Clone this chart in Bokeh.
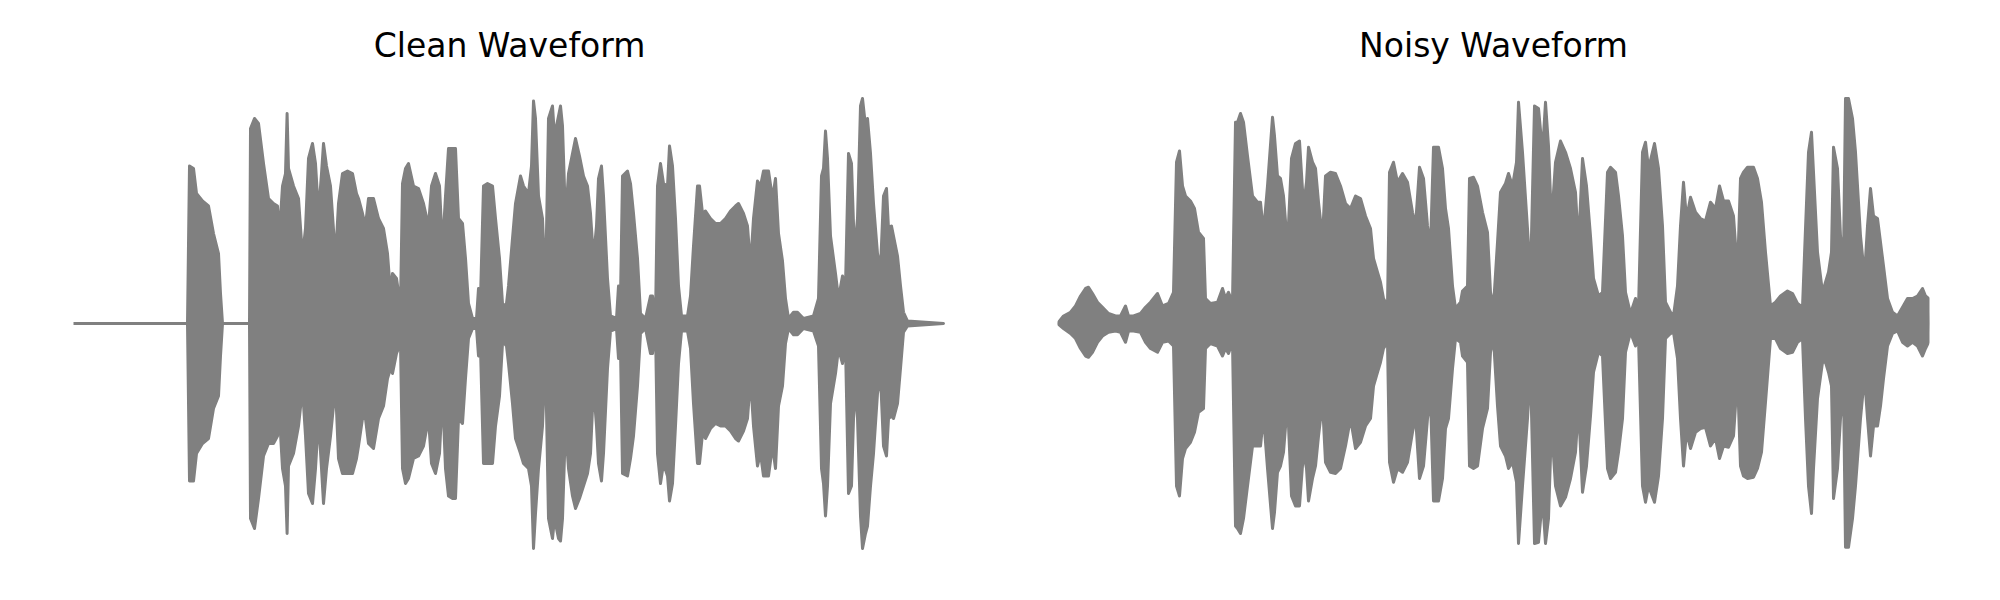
from bokeh.plotting import figure
from bokeh.layouts import row
from bokeh.embed import file_html
from bokeh.resources import INLINE

titles = ["Clean Waveform", "Noisy Waveform"]

# Clean waveform envelope (time in s, upper and lower amplitude)
clean_t = [0.000, 0.570, 0.580, 0.600, 0.615, 0.645, 0.675, 0.700, 0.725, 0.735,
           0.745, 0.880, 0.885, 0.905, 0.925, 0.950, 0.975, 1.000, 1.020, 1.030,
           1.045, 1.060, 1.068, 1.075, 1.100, 1.125, 1.145, 1.160, 1.175, 1.195,
           1.210, 1.225, 1.240, 1.250, 1.265, 1.285, 1.310, 1.325, 1.345, 1.370,
           1.395, 1.415, 1.425, 1.445, 1.460, 1.475, 1.500, 1.525, 1.550, 1.570,
           1.585, 1.595, 1.615, 1.635, 1.645, 1.660, 1.675, 1.700, 1.725, 1.750,
           1.775, 1.790, 1.810, 1.830, 1.845, 1.860, 1.875, 1.895, 1.910, 1.925,
           1.945, 1.960, 1.975, 1.995, 2.015, 2.025, 2.035, 2.050, 2.070, 2.095,
           2.110, 2.130, 2.145, 2.155, 2.165, 2.175, 2.195, 2.210, 2.235, 2.250,
           2.275, 2.290, 2.300, 2.310, 2.325, 2.345, 2.360, 2.375, 2.395, 2.405,
           2.425, 2.435, 2.445, 2.460, 2.475, 2.495, 2.510, 2.530, 2.550, 2.570,
           2.585, 2.600, 2.615, 2.625, 2.640, 2.650, 2.670, 2.685, 2.715, 2.725,
           2.735, 2.745, 2.770, 2.785, 2.800, 2.820, 2.835, 2.860, 2.885, 2.895,
           2.910, 2.920, 2.935, 2.950, 2.970, 2.980, 2.995, 3.010, 3.025, 3.040,
           3.070, 3.085, 3.100, 3.120, 3.130, 3.145, 3.160, 3.185, 3.210, 3.235,
           3.260, 3.285, 3.310, 3.325, 3.350, 3.370, 3.385, 3.400, 3.420, 3.435,
           3.450, 3.475, 3.495, 3.510, 3.525, 3.545, 3.560, 3.575, 3.600, 3.620,
           3.650, 3.700, 3.725, 3.740, 3.750, 3.760, 3.770, 3.785, 3.810, 3.825,
           3.845, 3.860, 3.875, 3.890, 3.905, 3.920, 3.935, 3.945, 3.960, 3.970,
           3.985, 4.000, 4.020, 4.035, 4.050, 4.065, 4.075, 4.090, 4.100, 4.120,
           4.135, 4.150, 4.170, 4.350]
clean_top = [0, 0, 0.63, 0.62, 0.52, 0.49, 0.47, 0.36, 0.28, 0.12,
             0, 0, 0.78, 0.82, 0.80, 0.64, 0.50, 0.48, 0.47, 0.36,
             0.55, 0.60, 0.84, 0.62, 0.55, 0.50, 0.27, 0.38, 0.66, 0.72,
             0.64, 0.44, 0.60, 0.72, 0.63, 0.55, 0.26, 0.48, 0.60, 0.61,
             0.60, 0.52, 0.50, 0.44, 0.39, 0.50, 0.50, 0.42, 0.38, 0.28,
             0.12, 0.20, 0.18, 0.07, 0.56, 0.62, 0.64, 0.55, 0.54, 0.48,
             0.39, 0.55, 0.60, 0.55, 0.30, 0.51, 0.70, 0.70, 0.70, 0.42,
             0.40, 0.26, 0.08, 0.02, 0.02, 0.14, 0.10, 0.55, 0.56, 0.55,
             0.42, 0.26, 0.08, 0.07, 0.08, 0.15, 0.34, 0.48, 0.59, 0.55,
             0.52, 0.63, 0.89, 0.82, 0.51, 0.42, 0.14, 0.82, 0.87, 0.75,
             0.83, 0.87, 0.79, 0.42, 0.60, 0.68, 0.74, 0.67, 0.59, 0.55,
             0.44, 0.26, 0.39, 0.58, 0.63, 0.51, 0.18, 0.03, 0.02, 0.15,
             0.10, 0.59, 0.61, 0.56, 0.44, 0.26, 0.04, 0.02, 0.11, 0.11,
             0.02, 0.55, 0.64, 0.56, 0.55, 0.71, 0.63, 0.42, 0.15, 0.03,
             0.03, 0.11, 0.31, 0.55, 0.55, 0.44, 0.45, 0.42, 0.40, 0.40,
             0.42, 0.45, 0.47, 0.48, 0.44, 0.39, 0.23, 0.42, 0.57, 0.55,
             0.61, 0.61, 0.50, 0.58, 0.36, 0.25, 0.10, 0.02, 0.045, 0.045,
             0.02, 0.03, 0.10, 0.59, 0.62, 0.77, 0.66, 0.35, 0.20, 0.10,
             0.19, 0.15, 0.68, 0.64, 0.28, 0.42, 0.87, 0.90, 0.79, 0.82,
             0.68, 0.48, 0.28, 0.22, 0.51, 0.54, 0.38, 0.39, 0.35, 0.27,
             0.15, 0.045, 0.01, 0]
clean_bottom = [0, 0, -0.63, -0.63, -0.52, -0.48, -0.46, -0.34, -0.29, -0.13,
                0, 0, -0.78, -0.82, -0.70, -0.53, -0.48, -0.48, -0.45, -0.37,
                -0.58, -0.65, -0.84, -0.57, -0.52, -0.41, -0.26, -0.45, -0.68, -0.72,
                -0.58, -0.38, -0.58, -0.72, -0.58, -0.45, -0.25, -0.54, -0.60, -0.60,
                -0.60, -0.54, -0.49, -0.38, -0.38, -0.48, -0.50, -0.38, -0.33, -0.22,
                -0.18, -0.20, -0.12, -0.08, -0.58, -0.64, -0.62, -0.54, -0.53, -0.49,
                -0.38, -0.56, -0.60, -0.52, -0.28, -0.58, -0.69, -0.70, -0.70, -0.38,
                -0.40, -0.22, -0.06, -0.02, -0.02, -0.13, -0.10, -0.56, -0.56, -0.56,
                -0.41, -0.29, -0.08, -0.08, -0.09, -0.16, -0.32, -0.46, -0.52, -0.56,
                -0.58, -0.65, -0.90, -0.76, -0.58, -0.41, -0.13, -0.78, -0.86, -0.78,
                -0.86, -0.87, -0.78, -0.41, -0.58, -0.69, -0.74, -0.70, -0.65, -0.60,
                -0.52, -0.25, -0.41, -0.56, -0.63, -0.52, -0.18, -0.03, -0.02, -0.14,
                -0.10, -0.60, -0.61, -0.54, -0.45, -0.25, -0.04, -0.02, -0.12, -0.12,
                -0.02, -0.52, -0.64, -0.56, -0.61, -0.71, -0.64, -0.41, -0.16, -0.03,
                -0.03, -0.10, -0.32, -0.56, -0.56, -0.44, -0.46, -0.42, -0.40, -0.41,
                -0.41, -0.43, -0.46, -0.47, -0.43, -0.38, -0.22, -0.41, -0.57, -0.52,
                -0.61, -0.61, -0.49, -0.58, -0.33, -0.25, -0.08, -0.02, -0.045, -0.045,
                -0.02, -0.03, -0.09, -0.58, -0.64, -0.77, -0.65, -0.32, -0.20, -0.10,
                -0.16, -0.09, -0.68, -0.65, -0.25, -0.38, -0.77, -0.90, -0.84, -0.81,
                -0.65, -0.52, -0.28, -0.21, -0.49, -0.53, -0.38, -0.37, -0.38, -0.32,
                -0.18, -0.035, -0.01, 0]

# Noisy waveform envelope
noisy_t = [0.000, 0.030, 0.065, 0.090, 0.115, 0.140, 0.155, 0.175, 0.200, 0.225,
           0.255, 0.290, 0.315, 0.340, 0.355, 0.380, 0.415, 0.440, 0.465, 0.500,
           0.525, 0.555, 0.580, 0.595, 0.610, 0.625, 0.640, 0.665, 0.685, 0.705,
           0.730, 0.740, 0.765, 0.800, 0.825, 0.840, 0.855, 0.875, 0.890, 0.900,
           0.915, 0.930, 0.950, 0.975, 1.000, 1.015, 1.030, 1.050, 1.075, 1.085,
           1.100, 1.115, 1.130, 1.150, 1.170, 1.190, 1.210, 1.230, 1.245, 1.255,
           1.275, 1.290, 1.305, 1.325, 1.340, 1.365, 1.390, 1.415, 1.440, 1.465,
           1.490, 1.515, 1.540, 1.565, 1.580, 1.600, 1.615, 1.630, 1.650, 1.660,
           1.680, 1.700, 1.725, 1.750, 1.775, 1.790, 1.810, 1.830, 1.850, 1.865,
           1.880, 1.905, 1.925, 1.940, 1.955, 1.975, 1.990, 2.015, 2.025, 2.050,
           2.060, 2.080, 2.100, 2.125, 2.150, 2.165, 2.180, 2.200, 2.215, 2.240,
           2.255, 2.275, 2.295, 2.305, 2.325, 2.350, 2.365, 2.385, 2.405, 2.425,
           2.440, 2.455, 2.470, 2.490, 2.515, 2.540, 2.565, 2.590, 2.605, 2.625,
           2.645, 2.665, 2.680, 2.705, 2.725, 2.750, 2.765, 2.790, 2.805, 2.825,
           2.840, 2.865, 2.890, 2.905, 2.925, 2.940, 2.955, 2.985, 3.005, 3.025,
           3.040, 3.065, 3.080, 3.100, 3.115, 3.130, 3.145, 3.165, 3.190, 3.215,
           3.240, 3.265, 3.290, 3.310, 3.330, 3.355, 3.380, 3.400, 3.415, 3.430,
           3.450, 3.480, 3.500, 3.520, 3.540, 3.565, 3.590, 3.615, 3.650, 3.675,
           3.700, 3.725, 3.740, 3.755, 3.770, 3.780, 3.800, 3.825, 3.840, 3.855,
           3.870, 3.880, 3.900, 3.915, 3.930, 3.940, 3.955, 3.975, 3.990, 4.015,
           4.035, 4.050, 4.065, 4.080, 4.100, 4.115, 4.130, 4.150, 4.175, 4.200,
           4.225, 4.250, 4.275, 4.300, 4.325, 4.340, 4.355, 4.360]
noisy_top = [0, 0.03, 0.045, 0.07, 0.11, 0.14, 0.145, 0.12, 0.085, 0.065,
             0.04, 0.03, 0.03, 0.07, 0.03, 0.03, 0.04, 0.065, 0.085, 0.12,
             0.07, 0.08, 0.125, 0.645, 0.69, 0.55, 0.51, 0.49, 0.46, 0.365,
             0.34, 0.10, 0.08, 0.085, 0.14, 0.10, 0.125, 0.085, 0.805, 0.805,
             0.84, 0.805, 0.67, 0.51, 0.485, 0.485, 0.365, 0.55, 0.825, 0.75,
             0.59, 0.58, 0.51, 0.31, 0.66, 0.72, 0.73, 0.47, 0.565, 0.705,
             0.645, 0.62, 0.485, 0.34, 0.59, 0.605, 0.60, 0.55, 0.48, 0.46,
             0.51, 0.50, 0.43, 0.38, 0.26, 0.205, 0.165, 0.10, 0.07, 0.605,
             0.645, 0.565, 0.60, 0.565, 0.445, 0.39, 0.625, 0.58, 0.39, 0.31,
             0.705, 0.705, 0.62, 0.46, 0.38, 0.15, 0.06, 0.085, 0.13, 0.15,
             0.58, 0.585, 0.55, 0.445, 0.365, 0.125, 0.07, 0.325, 0.525, 0.56,
             0.60, 0.55, 0.645, 0.885, 0.685, 0.38, 0.18, 0.87, 0.86, 0.685,
             0.885, 0.71, 0.405, 0.645, 0.73, 0.685, 0.62, 0.525, 0.31, 0.66,
             0.55, 0.35, 0.18, 0.11, 0.125, 0.605, 0.625, 0.605, 0.51, 0.35,
             0.125, 0.04, 0.10, 0.06, 0.685, 0.725, 0.62, 0.72, 0.62, 0.39,
             0.085, 0.045, 0.03, 0.15, 0.39, 0.565, 0.42, 0.505, 0.445, 0.42,
             0.41, 0.485, 0.46, 0.55, 0.49, 0.49, 0.43, 0.205, 0.58, 0.605,
             0.625, 0.625, 0.58, 0.485, 0.285, 0.07, 0.085, 0.11, 0.13, 0.12,
             0.08, 0.065, 0.38, 0.685, 0.765, 0.605, 0.285, 0.125, 0.165, 0.205,
             0.285, 0.705, 0.62, 0.35, 0.26, 0.90, 0.90, 0.82, 0.685, 0.35,
             0.19, 0.39, 0.54, 0.43, 0.42, 0.325, 0.23, 0.10, 0.045, 0.03,
             0.065, 0.10, 0.10, 0.11, 0.14, 0.11, 0.10, 0]
noisy_bottom = [0, -0.02, -0.04, -0.06, -0.10, -0.13, -0.135, -0.115, -0.075, -0.05,
                -0.035, -0.03, -0.035, -0.075, -0.03, -0.03, -0.035, -0.075, -0.10, -0.115,
                -0.075, -0.07, -0.09, -0.65, -0.69, -0.54, -0.50, -0.475, -0.435, -0.355,
                -0.34, -0.10, -0.08, -0.09, -0.13, -0.10, -0.12, -0.075, -0.81, -0.82,
                -0.84, -0.78, -0.65, -0.49, -0.49, -0.49, -0.37, -0.58, -0.82, -0.755,
                -0.595, -0.57, -0.515, -0.315, -0.69, -0.73, -0.73, -0.515, -0.58, -0.71,
                -0.62, -0.57, -0.45, -0.315, -0.555, -0.595, -0.60, -0.58, -0.49, -0.38,
                -0.50, -0.475, -0.41, -0.38, -0.25, -0.195, -0.155, -0.10, -0.075, -0.555,
                -0.635, -0.58, -0.595, -0.555, -0.435, -0.37, -0.62, -0.57, -0.38, -0.30,
                -0.71, -0.71, -0.62, -0.42, -0.38, -0.18, -0.06, -0.075, -0.13, -0.155,
                -0.57, -0.58, -0.57, -0.42, -0.34, -0.115, -0.06, -0.33, -0.49, -0.53,
                -0.58, -0.555, -0.635, -0.88, -0.65, -0.38, -0.18, -0.88, -0.875, -0.70,
                -0.88, -0.78, -0.41, -0.65, -0.73, -0.695, -0.62, -0.515, -0.33, -0.675,
                -0.57, -0.37, -0.195, -0.115, -0.13, -0.58, -0.62, -0.595, -0.515, -0.38,
                -0.115, -0.035, -0.09, -0.06, -0.65, -0.715, -0.65, -0.715, -0.61, -0.38,
                -0.06, -0.04, -0.035, -0.14, -0.38, -0.57, -0.435, -0.50, -0.435, -0.42,
                -0.415, -0.49, -0.46, -0.54, -0.49, -0.495, -0.45, -0.21, -0.57, -0.61,
                -0.62, -0.615, -0.58, -0.515, -0.315, -0.06, -0.06, -0.10, -0.12, -0.115,
                -0.075, -0.06, -0.38, -0.65, -0.76, -0.58, -0.30, -0.155, -0.155, -0.195,
                -0.25, -0.70, -0.58, -0.38, -0.26, -0.895, -0.895, -0.78, -0.65, -0.38,
                -0.21, -0.38, -0.53, -0.41, -0.41, -0.33, -0.22, -0.09, -0.04, -0.03,
                -0.075, -0.09, -0.075, -0.09, -0.13, -0.10, -0.075, 0]

WAVE_COLOR = "#808080"
X_END = 4.36
FRAME_W = 872
FRAME_H = 500
TOP = 73


def make_panel(title, t, top, bottom, border_left, border_right):
    p = figure(width=border_left + FRAME_W + border_right,
               height=TOP + FRAME_H + 10,
               x_range=(0, X_END), y_range=(-1, 1),
               x_axis_location=None, y_axis_location=None,
               output_backend="svg", toolbar_location=None,
               min_border_left=border_left, min_border_right=border_right,
               min_border_top=TOP, min_border_bottom=10,
               title=title)
    p.grid.visible = False
    p.outline_line_color = None
    p.background_fill_color = "white"
    p.border_fill_color = "white"
    p.title.text_font = "DejaVu Sans"
    p.title.text_font_size = "33px"
    p.title.text_font_style = "normal"
    p.title.text_color = "black"
    p.title.align = "center"
    p.title.standoff = 17
    xs = list(t) + list(t)[::-1]
    ys = list(top) + list(bottom)[::-1]
    p.patch(xs, ys, fill_color=WAVE_COLOR, line_color=WAVE_COLOR,
            line_width=3, line_join="round")
    return p


p1 = make_panel(titles[0], clean_t, clean_top, clean_bottom, 73, 55)
p2 = make_panel(titles[1], noisy_t, noisy_top, noisy_bottom, 57, 50)
layout = row(p1, p2)

open("out.html", "w").write(file_html(layout, INLINE))
